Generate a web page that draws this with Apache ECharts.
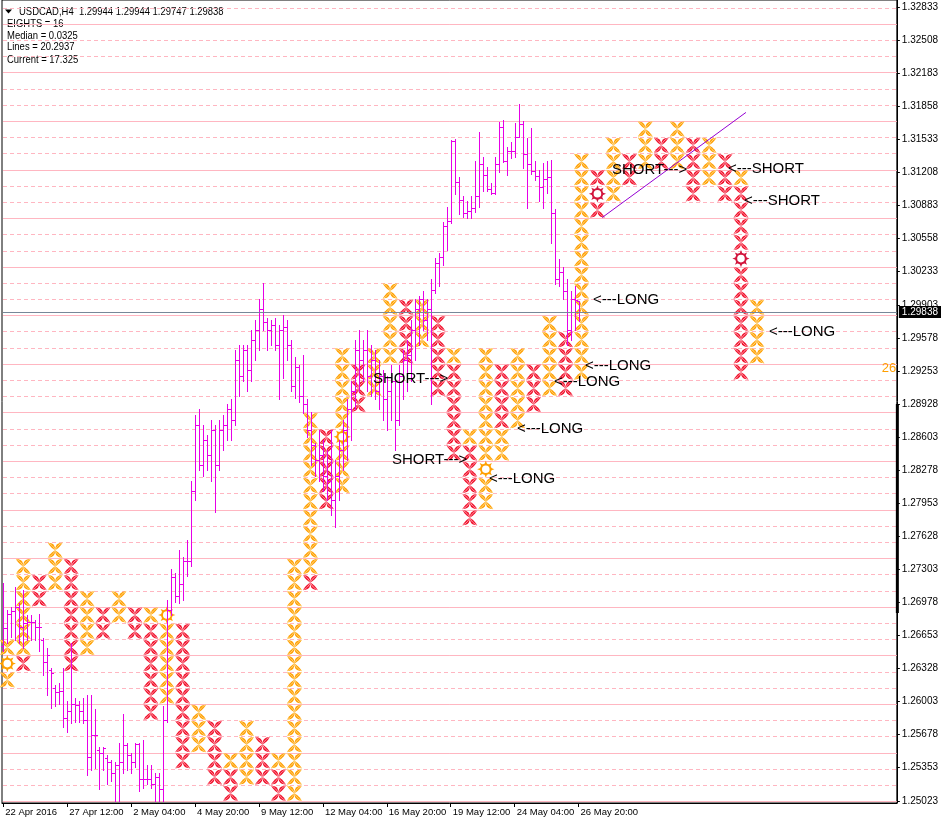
<!DOCTYPE html>
<html>
<head>
<meta charset="utf-8">
<script src="https://cdn.jsdelivr.net/npm/echarts@6.0.0/dist/echarts.min.js"></script>
<style>
html,body{margin:0;padding:0;background:#fff;}
#chart{width:941px;height:824px;}
</style>
</head>
<body>
<div id="chart"></div>
<script>
// ================= DATA =================
const barOpen = [1.26555,1.26725,1.26865,1.26895,1.26935,1.26735,1.26775,1.26785,1.26785,1.26735,
1.26605,1.26394,1.26314,1.26134,1.26094,1.26104,1.25844,1.25914,1.25984,1.25974,
1.25914,1.25827,1.25457,1.25677,1.25527,1.25497,1.25447,1.25407,1.25297,1.25377,
1.25407,1.25577,1.25477,1.25407,1.25587,1.25247,1.25247,1.25247,1.25197,1.25257,
1.25147,1.25827,1.26905,1.27231,1.27045,1.27165,1.27391,1.27391,1.28077,1.28727,
1.28327,1.28577,1.28427,1.28677,1.28327,1.28677,1.28727,1.28877,1.28777,1.29361,
1.29211,1.29461,1.29261,1.29561,1.29661,1.29861,1.29741,1.29661,1.29711,1.29511,
1.29661,1.29691,1.29511,1.29111,1.29291,1.29011,1.28927,1.28677,1.28527,1.28377,
1.28427,1.28227,1.28177,1.27991,1.28227,1.28477,1.28677,1.28877,1.29061,1.29461,
1.29361,1.29461,1.29211,1.29361,1.29061,1.29211,1.28977,1.29061,1.29161,1.28777,
1.29211,1.29361,1.29411,1.29661,1.29861,1.29961,1.29761,1.29861,1.30055,1.30315,
1.30375,1.30685,1.30735,1.31519,1.31119,1.30935,1.30805,1.30825,1.30855,1.30979,
1.31289,1.31179,1.31049,1.31009,1.31289,1.31659,1.31319,1.31419,1.31419,1.31559,
1.31689,1.31389,1.31289,1.31219,1.31169,1.31069,1.31149,1.31159,1.30805,1.30165,
1.30225,1.30045,1.29661,1.29961,1.29944];
const barHigh = [1.27175,1.26905,1.26935,1.27135,1.26975,1.27105,1.26855,1.26855,1.26805,1.26865,
1.26625,1.26535,1.26334,1.26164,1.26184,1.26334,1.26014,1.26575,1.26034,1.26014,
1.26034,1.26064,1.26064,1.25934,1.25557,1.25557,1.25477,1.25427,1.25407,1.25597,
1.25884,1.25597,1.25497,1.25597,1.25597,1.25627,1.25377,1.25377,1.25297,1.25297,
1.25964,1.27005,1.27311,1.27271,1.27491,1.27421,1.27591,1.28177,1.28827,1.28877,
1.28727,1.28627,1.28777,1.28727,1.28777,1.28827,1.28927,1.28977,1.29461,1.29511,
1.29511,1.29511,1.29661,1.29761,1.29961,1.30125,1.29781,1.29761,1.29781,1.29711,
1.29811,1.29761,1.29561,1.29391,1.29311,1.29411,1.28977,1.28857,1.28547,1.28677,
1.28577,1.28477,1.28677,1.28377,1.28577,1.28777,1.28977,1.29161,1.29561,1.29661,
1.29561,1.29661,1.29511,1.29461,1.29361,1.29261,1.29211,1.29311,1.29161,1.29311,
1.29461,1.29561,1.29761,1.29961,1.29995,1.30045,1.29961,1.30165,1.30365,1.30415,
1.30725,1.30865,1.31529,1.31539,1.31159,1.30979,1.30925,1.30979,1.31319,1.31609,
1.31359,1.31259,1.31109,1.31359,1.31709,1.31729,1.31459,1.31509,1.31699,1.31879,
1.31719,1.31549,1.31649,1.31319,1.31229,1.31299,1.31319,1.31329,1.30845,1.30355,
1.30275,1.30165,1.30045,1.30095,1.29944];
const barLow = [1.26505,1.26575,1.26635,1.26605,1.26575,1.26535,1.26605,1.26605,1.26605,1.26505,
1.26264,1.26064,1.25944,1.25964,1.25984,1.25757,1.25707,1.25797,1.25807,1.25807,
1.25797,1.25277,1.25327,1.25347,1.25147,1.25327,1.25197,1.25227,1.25027,1.25027,
1.25297,1.25327,1.25297,1.25357,1.25127,1.25157,1.25197,1.25157,1.25027,1.25027,
1.25027,1.25807,1.26855,1.26985,1.26975,1.27005,1.27241,1.27341,1.27991,1.28277,
1.28227,1.28277,1.28177,1.27871,1.28277,1.28477,1.28577,1.28577,1.28727,1.29011,
1.29161,1.29061,1.29161,1.29361,1.29461,1.29661,1.29461,1.29511,1.29461,1.28977,
1.29191,1.29361,1.29061,1.28991,1.28947,1.28847,1.28607,1.28327,1.28227,1.28177,
1.28077,1.27991,1.27841,1.27721,1.27991,1.28277,1.28377,1.28577,1.28877,1.29061,
1.29161,1.29061,1.29011,1.28977,1.28877,1.28777,1.28677,1.28777,1.28477,1.28727,
1.28977,1.29061,1.29161,1.29361,1.29511,1.29661,1.29561,1.28927,1.30025,1.30095,
1.30295,1.30445,1.30715,1.30999,1.30795,1.30775,1.30765,1.30765,1.30815,1.30865,
1.31029,1.31029,1.30999,1.30999,1.31209,1.31309,1.31179,1.31349,1.31359,1.31559,
1.31249,1.30855,1.31189,1.31139,1.30925,1.30855,1.31009,1.30515,1.30115,1.30095,
1.29961,1.29511,1.29561,1.29661,1.29747];
const barClose = [1.26725,1.26865,1.26895,1.26935,1.26735,1.26775,1.26785,1.26785,1.26735,1.26735,
1.26394,1.26465,1.26284,1.26094,1.26104,1.25844,1.25914,1.25984,1.25974,1.25914,
1.25827,1.25457,1.25677,1.25677,1.25497,1.25547,1.25407,1.25297,1.25377,1.25407,
1.25577,1.25477,1.25407,1.25587,1.25247,1.25247,1.25247,1.25197,1.25257,1.25147,
1.25827,1.26905,1.27231,1.27045,1.27165,1.27391,1.27391,1.28077,1.28727,1.28327,
1.28577,1.28427,1.28677,1.28327,1.28677,1.28727,1.28877,1.28777,1.29361,1.29211,
1.29461,1.29261,1.29561,1.29661,1.29861,1.29741,1.29661,1.29711,1.29511,1.29661,
1.29691,1.29511,1.29111,1.29291,1.29011,1.28927,1.28677,1.28527,1.28377,1.28427,
1.28227,1.28177,1.27991,1.28227,1.28477,1.28677,1.28877,1.29061,1.29461,1.29361,
1.29461,1.29211,1.29361,1.29061,1.29211,1.28977,1.29061,1.29161,1.28777,1.29211,
1.29361,1.29411,1.29661,1.29861,1.29961,1.29761,1.29861,1.30055,1.30315,1.30375,
1.30685,1.30735,1.31519,1.31119,1.30935,1.30805,1.30825,1.30855,1.30979,1.31289,
1.31179,1.31049,1.31009,1.31289,1.31659,1.31319,1.31419,1.31419,1.31559,1.31689,
1.31389,1.31289,1.31219,1.31169,1.31069,1.31149,1.31159,1.30805,1.30165,1.30225,
1.30045,1.29661,1.29961,1.29951,1.29838];

const timeTickBars = [0,16,32,48,64,80,96,112,128,144];
const timeTickLabels = ['22 Apr 2016','27 Apr 12:00','2 May 04:00','4 May 20:00','9 May 12:00','12 May 04:00','16 May 20:00','19 May 12:00','24 May 04:00','26 May 20:00'];
const priceTickLabels = ['1.25023','1.25353','1.25678','1.26003','1.26328','1.26653','1.26978','1.27303','1.27628','1.27953','1.28278','1.28603','1.28928','1.29253','1.29578','1.29903','1.30233','1.30558','1.30883','1.31208','1.31533','1.31858','1.32183','1.32508','1.32833'];

// Point & figure columns: [column, top box row, codes from top down]
// O = orange cross, R = red cross, C = orange ring, K = crimson ring
const pfColumns = [
 [0,-21,'OCO'],[1,-16,'OOOOOOR'],[2,-17,'RR'],[3,-15,'OOO'],[4,-16,'RRRRRRR'],
 [5,-18,'OOOO'],[6,-19,'RR'],[7,-18,'OO'],[8,-19,'RR'],[9,-19,'ORRRRRR'],
 [10,-19,'COOOOO'],[11,-20,'RRRRRRRRR'],[12,-25,'OOO'],[13,-26,'RRRR'],[14,-28,'ORR'],
 [15,-26,'OOOO'],[16,-27,'RRR'],[17,-28,'ORR'],[18,-16,'OOOOOOOOOOOOOOO'],[19,-7,'OOOOOOOOOOR'],
 [20,-8,'RRRRR'],[21,-3,'OOOOOCOOO'],[22,-4,'RRR'],[23,-3,'OOO'],[24,1,'OOOOO'],
 [25,0,'RRRR'],[26,0,'OOO'],[27,-1,'RRRRR'],[28,-3,'ORRRRRR'],[29,-8,'ORRRRR'],
 [30,-3,'OOOOOOOCOO'],[31,-4,'RRRROO'],[32,-3,'OOOOO'],[33,-4,'RRR'],[34,-1,'OOOOO'],
 [35,-2,'RRRR'],[36,9,'OOOOOOOOOOOOOO'],[37,8,'RKR'],[38,10,'OOOO'],[39,9,'RR'],
 [40,11,'OOO'],[41,10,'RR'],[42,11,'OOO'],[43,10,'RRRR'],[44,10,'OOO'],
 [45,9,'RRR'],[46,8,'ORRRRKRRRRRRR'],[47,0,'OOOO']
];
const boxLinesSolid = [-30.5,-27.5,-24.5,-21.5,-18.5,-15.5,-12.5,-9.5,-6.5,-3.5,-0.5,2.5,5.5,8.5,11.5,14.5,17.5];
const boxLinesDashed = [-29.5,-28.5,-26.5,-25.5,-23.5,-22.5,-20.5,-19.5,-17.5,-16.5,-14.5,-13.5,-11.5,-10.5,-8.5,-7.5,-5.5,-4.5,-2.5,-1.5,0.5,1.5,3.5,4.5,6.5,7.5,9.5,10.5,12.5,13.5,15.5,16.5,18.5];

const signalTexts = ['SHORT--->','<---SHORT','<---SHORT','<---LONG','<---LONG','<---LONG','<---LONG','<---LONG','<---LONG','SHORT--->','SHORT--->'];
const signalBars = [152.35,181.5,185.4,147.5,145.7,137.9,128.6,121.7,191.7,92.6,97.35];
const signalPrices = [1.31229,1.31239,1.30928,1.29952,1.29306,1.29144,1.28684,1.28197,1.29641,1.29178,1.28377];

const trendBars = [149.9,185.9];
const trendPrices = [1.30765,1.31799];
const currentPrice = 1.29838;
const currentPriceLabel = '1.29838';
const scrollPrices = [1.28927,1.26875];
const sideTexts = ['26'];
const sidePrices = [1.2928];
const headerLines = ['USDCAD,H4  1.29944 1.29944 1.29747 1.29838','EIGHTS = 16','Median = 0.0325','Lines = 20.2937','Current = 17.325'];

// ================= STYLE =================
const FONT = '"Liberation Sans",Arial,sans-serif';
const MAG = '#E600E6';
const ORANGE = '#FF9F00', ORANGE_HI = '#FFD98A';
const RED = '#F0102A', RED_HI = '#FFA0AE';
const CRIMSON = '#D2143C';
const PINK = '#FFB6C1';

const priceTickValues = priceTickLabels.map(Number);

const pfCells = [];
pfColumns.forEach(([col, top, codes]) => {
  for (let j = 0; j < codes.length; j++) pfCells.push([col, top - j, codes[j]]);
});
const glyphData = pfCells.filter(c => c[2] === 'O' || c[2] === 'R').map(c => [c[0], c[1], c[2] === 'R' ? 1 : 0]);
const ringData = pfCells.filter(c => c[2] === 'C' || c[2] === 'K').map(c => [c[0], c[1], c[2] === 'K' ? 1 : 0]);
const gridLineData = boxLinesSolid.map(v => [0, v, 1]).concat(boxLinesDashed.map(v => [0, v, 0]));
const barData = barOpen.map((o, i) => [i, o, barHigh[i], barLow[i], barClose[i]]);
const signalData = signalBars.map((b, i) => [b, signalPrices[i]]);

// glyph geometry
const GW = 7.3, GH = 7.4, B_OUT = 3.8, B_IN = -1.0;
function quadPts(p0, c, p1, n) {
  const pts = [];
  for (let k = 0; k <= n; k++) {
    const t = k / n, u = 1 - t;
    pts.push([u*u*p0[0] + 2*u*t*c[0] + t*t*p1[0], u*u*p0[1] + 2*u*t*c[1] + t*t*p1[1]]);
  }
  return pts;
}
function leaf(cx, cy, sx, sy) {
  const p0 = [cx + sx*GW, cy + sy*GH], p1 = [cx, cy];
  const mx = (p0[0] + p1[0]) / 2, my = (p0[1] + p1[1]) / 2;
  const dx = -sx, dy = sy;
  const co = [mx + B_OUT*dx, my + B_OUT*dy];
  const ci = [mx + B_IN*dx, my + B_IN*dy];
  const bm = (B_OUT + B_IN) / 2;
  const cm = [mx + bm*dx, my + bm*dy];
  return { outline: quadPts(p0, co, p1, 8).concat(quadPts(p1, ci, p0, 8)), mid: quadPts(p0, cm, p1, 8) };
}

const chart = echarts.init(document.getElementById('chart'), null, {renderer: 'canvas', width: 941, height: 824});

function headerText(i, x, y) {
  return {type: 'text', x: x, y: y, scaleX: 0.86,
    style: {text: headerLines[i], fontSize: 11, fontFamily: FONT, fill: '#000', verticalAlign: 'middle'}};
}

const option = {
  animation: false,
  backgroundColor: '#fff',
  grid: {left: 2, right: 43, top: 0, bottom: 21, show: true, borderColor: '#000', borderWidth: 1, backgroundColor: 'transparent'},
  xAxis: [
    {
      type: 'value', min: -0.325, max: 223.675, position: 'bottom',
      splitLine: {show: false},
      axisLine: {show: true, onZero: false, lineStyle: {color: '#000', width: 1}},
      axisTick: {show: true, customValues: timeTickBars, length: 4, lineStyle: {color: '#000'}},
      axisLabel: {
        show: true, customValues: timeTickBars, align: 'left', margin: 4, verticalAlign: 'top',
        fontSize: 9.5, fontFamily: FONT, color: '#000', padding: [0,0,0,2],
        formatter: v => { const k = timeTickBars.indexOf(Math.round(v)); return k >= 0 ? timeTickLabels[k] : ''; }
      }
    },
    { type: 'value', min: -0.332, max: 55.773, show: false }
  ],
  yAxis: [
    {
      type: 'value', min: 1.25006, max: 1.32905, position: 'right',
      splitLine: {show: false},
      axisLine: {show: true, onZero: false, lineStyle: {color: '#000', width: 1}},
      axisTick: {show: true, customValues: priceTickValues, length: 3, lineStyle: {color: '#000'}},
      axisLabel: {
        show: true, customValues: priceTickValues, margin: 5, fontSize: 10, fontFamily: FONT, color: '#000',
        padding: [3,0,0,0],
        formatter: v => { const k = priceTickValues.findIndex(t => Math.abs(t - v) < 1e-7); return k >= 0 ? priceTickLabels[k] : ''; }
      }
    },
    { type: 'value', min: -30.605, max: 18.963, show: false }
  ],
  graphic: [
    {type: 'polygon', shape: {points: [[5,9.5],[12,9.5],[8.5,13.5]]}, style: {fill: '#000'}},
    headerText(0, 19, 11.5),
    headerText(1, 7, 23.7),
    headerText(2, 7, 35.5),
    headerText(3, 7, 47.2),
    headerText(4, 7, 59.8)
  ],
  series: [
    { // box grid lines
      type: 'custom', xAxisIndex: 1, yAxisIndex: 1, z: 1, silent: true,
      data: gridLineData, encode: {x: 0, y: 1},
      renderItem: (params, api) => {
        const cs = params.coordSys;
        const y = Math.round(api.coord([0, api.value(1)])[1]) + 0.5;
        const solid = api.value(2) === 1;
        return {type: 'line', shape: {x1: cs.x + 1, y1: y, x2: cs.x + cs.width, y2: y},
          style: {stroke: PINK, lineWidth: 1, lineDash: solid ? null : [4, 3]}};
      }
    },
    { // P&F crosses
      type: 'custom', xAxisIndex: 1, yAxisIndex: 1, z: 2, silent: true,
      data: glyphData, encode: {x: 0, y: 1},
      renderItem: (params, api) => {
        const c = api.coord([api.value(0), api.value(1)]);
        const red = api.value(2) === 1;
        const children = [];
        [[-1,-1],[1,-1],[-1,1],[1,1]].forEach(([sx, sy]) => {
          const lf = leaf(c[0], c[1], sx, sy);
          children.push({type: 'polygon', shape: {points: lf.outline}, style: {fill: red ? RED : ORANGE}});
          children.push({type: 'polyline', shape: {points: lf.mid}, style: {stroke: red ? RED_HI : ORANGE_HI, lineWidth: 1, fill: null}});
        });
        return {type: 'group', children};
      }
    },
    { // P&F rings
      type: 'custom', xAxisIndex: 1, yAxisIndex: 1, z: 3, silent: true,
      data: ringData, encode: {x: 0, y: 1},
      renderItem: (params, api) => {
        const c = api.coord([api.value(0), api.value(1)]);
        const col = api.value(2) === 1 ? CRIMSON : ORANGE;
        const children = [];
        for (let k = 0; k < 8; k++) {
          const a = k * Math.PI / 4, w = 0.26;
          children.push({type: 'polygon', shape: {points: [
            [c[0] + 5.2*Math.cos(a - w), c[1] + 5.2*Math.sin(a - w)],
            [c[0] + 8.6*Math.cos(a), c[1] + 8.6*Math.sin(a)],
            [c[0] + 5.2*Math.cos(a + w), c[1] + 5.2*Math.sin(a + w)]]}, style: {fill: col}});
        }
        children.push({type: 'circle', shape: {cx: c[0], cy: c[1], r: 4.8}, style: {fill: '#fff', stroke: col, lineWidth: 2}});
        return {type: 'group', children};
      }
    },
    { // OHLC bars
      type: 'custom', xAxisIndex: 0, yAxisIndex: 0, z: 4, silent: true,
      data: barData, encode: {x: 0, y: [1,2,3,4]},
      renderItem: (params, api) => {
        const i = api.value(0);
        const pO = api.coord([i, api.value(1)]), pH = api.coord([i, api.value(2)]);
        const pL = api.coord([i, api.value(3)]), pC = api.coord([i, api.value(4)]);
        const x = Math.round(pO[0]) + 0.5;
        const yH = Math.round(pH[1]), yL = Math.round(pL[1]);
        const yO = Math.round(pO[1]) + 0.5, yC = Math.round(pC[1]) + 0.5;
        return {type: 'group', children: [
          {type: 'line', shape: {x1: x, y1: yH, x2: x, y2: yL + 1}, style: {stroke: MAG, lineWidth: 1}},
          {type: 'line', shape: {x1: x - 2.5, y1: yO, x2: x, y2: yO}, style: {stroke: MAG, lineWidth: 1}},
          {type: 'line', shape: {x1: x, y1: yC, x2: x + 2.5, y2: yC}, style: {stroke: MAG, lineWidth: 1}}
        ]};
      }
    },
    { // scroll marker on price scale
      type: 'custom', xAxisIndex: 0, yAxisIndex: 0, z: 6, silent: true,
      data: [[200, scrollPrices[0], scrollPrices[1]]], encode: {x: 0, y: [1,2]},
      renderItem: (params, api) => {
        const cs = params.coordSys;
        const t = api.coord([200, api.value(1)]), b = api.coord([200, api.value(2)]);
        return {type: 'rect', shape: {x: cs.x + cs.width - 1, y: Math.round(t[1]), width: 3, height: Math.round(b[1] - t[1])}, style: {fill: '#000'}};
      }
    },
    { // trend line
      type: 'line', xAxisIndex: 0, yAxisIndex: 0, z: 5, silent: true,
      data: trendBars.map((b, i) => [b, trendPrices[i]]),
      symbol: 'none', lineStyle: {color: '#9400D3', width: 1}
    },
    { // current price line + label
      type: 'custom', xAxisIndex: 0, yAxisIndex: 0, z: 5, silent: true,
      data: [[0, currentPrice]], encode: {x: 0, y: 1},
      renderItem: (params, api) => {
        const cs = params.coordSys;
        const y = Math.round(api.coord([0, api.value(1)])[1]) + 0.5;
        const xr = cs.x + cs.width;
        return {type: 'group', children: [
          {type: 'line', shape: {x1: cs.x + 1, y1: y, x2: xr, y2: y}, style: {stroke: '#778899', lineWidth: 1}},
          {type: 'rect', shape: {x: xr + 2, y: y - 6.5, width: 941 - xr - 2, height: 12}, style: {fill: '#000'}},
          {type: 'text', x: xr + 5, y: y, style: {text: currentPriceLabel, fontSize: 10, fontFamily: FONT, fill: '#fff', verticalAlign: 'middle'}}
        ]};
      }
    },
    { // signal texts
      type: 'custom', xAxisIndex: 0, yAxisIndex: 0, z: 7, silent: true,
      data: signalData, encode: {x: 0, y: 1},
      renderItem: (params, api) => {
        const p = api.coord([api.value(0), api.value(1)]);
        return {type: 'text', x: Math.round(p[0]), y: Math.round(p[1]),
          style: {text: signalTexts[params.dataIndex], fontSize: 15, fontFamily: FONT, fill: '#000', align: 'left', verticalAlign: 'middle'}};
      }
    },
    { // side text
      type: 'custom', xAxisIndex: 0, yAxisIndex: 0, z: 7, silent: true,
      data: sidePrices.map(p => [223.5, p]), encode: {x: 0, y: 1},
      renderItem: (params, api) => {
        const p = api.coord([api.value(0), api.value(1)]);
        return {type: 'text', x: p[0], y: p[1],
          style: {text: sideTexts[params.dataIndex], fontSize: 13, fontFamily: FONT, fill: ORANGE, align: 'right', verticalAlign: 'middle'}};
      }
    }
  ]
};
chart.setOption(option);
</script>
</body>
</html>
